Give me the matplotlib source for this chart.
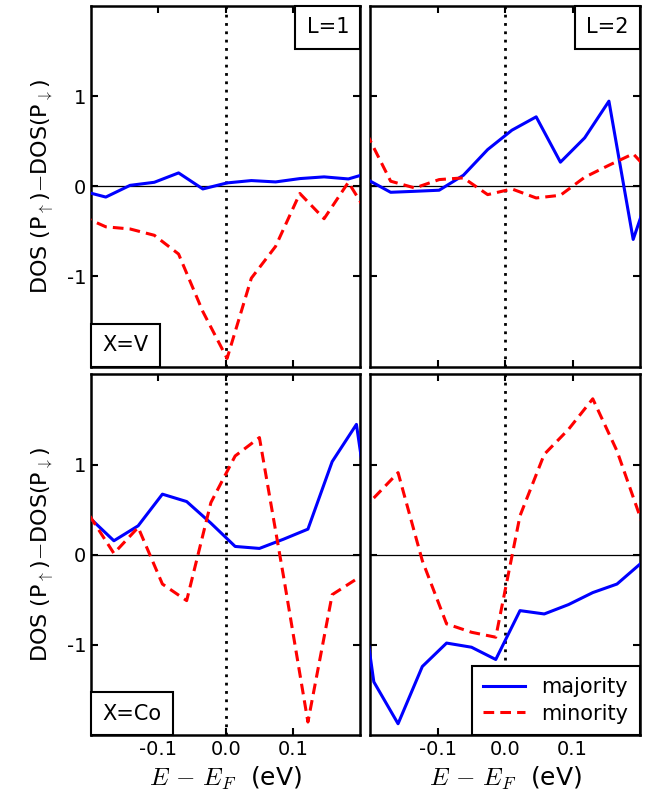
import matplotlib
matplotlib.use('Agg')
import matplotlib.pyplot as plt
from matplotlib.offsetbox import AnchoredText

plt.rcParams['font.family'] = ['DejaVu Sans']
plt.rcParams['mathtext.fontset'] = 'cm'
plt.rcParams['axes.unicode_minus'] = False

# energy grids (eV) for each panel, values of DOS(P_up)-DOS(P_down)
e_v_l1 = [-0.214, -0.178, -0.142, -0.106, -0.070, -0.034, 0.002, 0.038, 0.074, 0.110, 0.146, 0.182, 0.218]
maj_v_l1 = [-0.05, -0.12, 0.01, 0.044, 0.148, -0.03, 0.037, 0.063, 0.048, 0.085, 0.104, 0.081, 0.16]
min_v_l1 = [-0.33, -0.45, -0.474, -0.544, -0.752, -1.39, -1.91, -1.02, -0.667, -0.08, -0.36, 0.044, -0.39]

e_v_l2 = [-0.206, -0.170, -0.134, -0.098, -0.062, -0.026, 0.010, 0.046, 0.082, 0.118, 0.154, 0.190, 0.226]
maj_v_l2 = [0.08, -0.067, -0.056, -0.044, 0.122, 0.407, 0.622, 0.77, 0.267, 0.537, 0.944, -0.59, 0.2]
min_v_l2 = [0.59, 0.056, -0.019, 0.074, 0.093, -0.093, -0.03, -0.13, -0.1, 0.1, 0.233, 0.36, 0.07]

e_co_l1 = [-0.202, -0.166, -0.130, -0.094, -0.058, -0.022, 0.014, 0.050, 0.086, 0.122, 0.158, 0.194, 0.230]
maj_co_l1 = [0.41, 0.155, 0.321, 0.672, 0.59, 0.35, 0.092, 0.07, 0.173, 0.284, 1.033, 1.446, -0.4]
min_co_l1 = [0.432, 0.015, 0.303, -0.325, -0.509, 0.579, 1.096, 1.30, -0.25, -1.856, -0.443, -0.27, -0.3]

e_co_l2 = [-0.231, -0.195, -0.159, -0.123, -0.087, -0.050, -0.014, 0.022, 0.058, 0.094, 0.130, 0.166, 0.202]
maj_co_l2 = [0.5, -1.41, -1.875, -1.24, -0.98, -1.026, -1.162, -0.62, -0.657, -0.553, -0.42, -0.325, -0.092]
min_co_l2 = [0.37, 0.63, 0.911, -0.066, -0.767, -0.86, -0.915, 0.432, 1.114, 1.391, 1.73, 1.151, 0.384]

panels = [
    (e_v_l1, maj_v_l1, min_v_l1, 'L=1', 'X=V'),
    (e_v_l2, maj_v_l2, min_v_l2, 'L=2', None),
    (e_co_l1, maj_co_l1, min_co_l1, None, 'X=Co'),
    (e_co_l2, maj_co_l2, min_co_l2, None, None),
]

fig, axs = plt.subplots(2, 2, figsize=(6.57, 8.07), dpi=100, sharex=True, sharey=True)
fig.subplots_adjust(left=0.1385, right=0.974, top=0.9926, bottom=0.0892, wspace=0.037, hspace=0.022)

for ax, (e, maj, mino, ltxt, xtxt) in zip(axs.flat, panels):
    ax.axhline(0, color='k', lw=0.9, zorder=1)
    ax.axvline(0, color='k', lw=2, ls=(0, (1, 2)), zorder=1)
    ax.plot(e, maj, color='blue', lw=2.2, label='majority', zorder=3)
    ax.plot(e, mino, color='red', lw=2.2, ls=(0, (3.5, 2)), label='minority', zorder=3)
    ax.set_xlim(-0.2, 0.2)
    ax.set_ylim(-2, 2)
    ax.set_xticks([-0.1, 0.0, 0.1])
    ax.set_yticks([-1, 0, 1])
    ax.tick_params(direction='in', top=True, right=True, length=5, width=1.5, labelsize=14)
    for s in ax.spines.values():
        s.set_linewidth(1.8)
    if ltxt:
        at = AnchoredText(ltxt, loc='upper right', borderpad=0, pad=0.55, prop=dict(size=15))
        at.patch.set_linewidth(1.5)
        ax.add_artist(at)
    if xtxt:
        at = AnchoredText(xtxt, loc='lower left', borderpad=0, pad=0.55, prop=dict(size=15))
        at.patch.set_linewidth(1.5)
        ax.add_artist(at)

for ax in axs[:, 0]:
    ax.set_ylabel(r'DOS (P$_\uparrow$)$-$DOS(P$_\downarrow$)', fontsize=16, labelpad=8)
for ax in axs[1, :]:
    ax.set_xlabel(r'$E\,-\,E_F$  (eV)', fontsize=18, labelpad=4)
    ax.set_xticklabels(['-0.1', '0.0', '0.1'])

leg = axs[1, 1].legend(loc='lower right', borderaxespad=0, fancybox=False, edgecolor='k',
                       framealpha=1, fontsize=15, handlelength=2.0, borderpad=0.55,
                       labelspacing=0.3)
leg.get_frame().set_linewidth(1.5)

fig.savefig('out.png', dpi=100)
